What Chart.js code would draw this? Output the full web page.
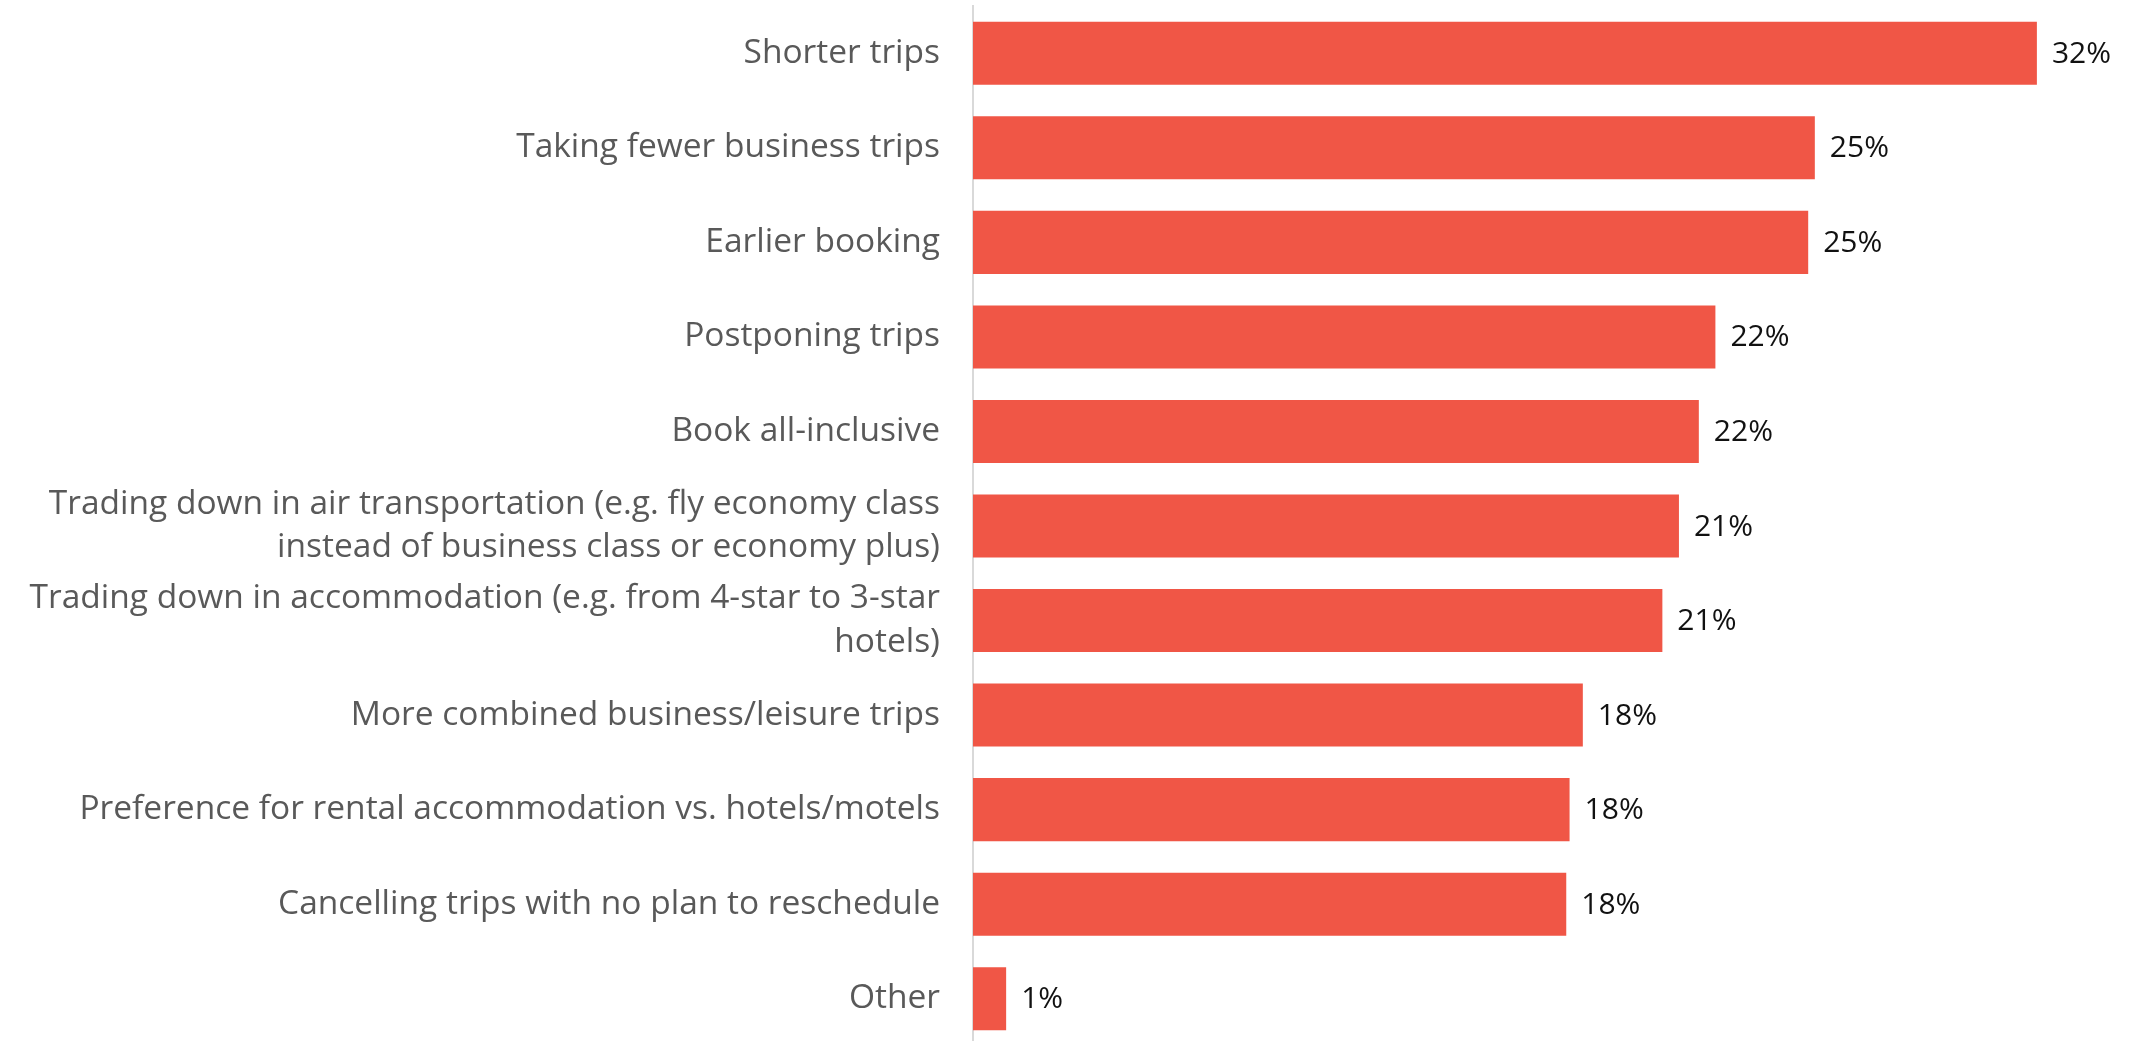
<!DOCTYPE html>
<html>
<head>
<meta charset="utf-8">
<script src="https://cdn.jsdelivr.net/npm/chart.js@4/dist/chart.umd.min.js"></script>
<style>
  html, body { margin: 0; padding: 0; background: #fff; overflow: hidden; }
  #wrap { width: 2139px; height: 1046px; position: relative; }
</style>
</head>
<body>
<div id="wrap"><canvas id="barChart"></canvas></div>
<script>
// Chart data
const categories = [
  "Shorter trips",
  "Taking fewer business trips",
  "Earlier booking",
  "Postponing trips",
  "Book all-inclusive",
  ["Trading down in air transportation (e.g. fly economy class", "instead of business class or economy plus)"],
  ["Trading down in accommodation (e.g. from 4-star to 3-star", "hotels)"],
  "More combined business/leisure trips",
  "Preference for rental accommodation vs. hotels/motels",
  "Cancelling trips with no plan to reschedule",
  "Other"
];
const shares = [32.1, 25.4, 25.2, 22.4, 21.9, 21.3, 20.8, 18.4, 18.0, 17.9, 1.0];

const FONT = "'Open Sans', sans-serif";

// value labels to the right of each bar
const valueLabels = {
  id: "valueLabels",
  afterDatasetsDraw(chart) {
    const c = chart.ctx;
    const meta = chart.getDatasetMeta(0);
    c.save();
    c.font = "30px " + FONT;
    c.fillStyle = "#111111";
    c.textAlign = "left";
    c.textBaseline = "middle";
    meta.data.forEach((bar, i) => {
      c.fillText(Math.round(shares[i]) + "%", bar.x + 15, bar.y + 1);
    });
    c.restore();
  }
};

const ctx = document.getElementById("barChart").getContext("2d");
const chart = new Chart(ctx, {
  type: "bar",
  data: {
    labels: categories,
    datasets: [{
      data: shares,
      backgroundColor: "#F05646",
      barPercentage: 0.667,
      categoryPercentage: 1.0
    }]
  },
  options: {
    indexAxis: "y",
    responsive: true,
    maintainAspectRatio: false,
    animation: false,
    layout: { padding: { top: 6, right: 6, bottom: 0, left: 0 } },
    plugins: {
      legend: { display: false },
      tooltip: { enabled: false }
    },
    scales: {
      x: {
        display: false,
        min: 0,
        max: 35
      },
      y: {
        grid: { display: false, drawTicks: false },
        border: { display: true, color: "#d9d9d9", width: 2 },
        ticks: {
          color: "#595959",
          padding: 33,
          font: { family: FONT, size: 33.5, lineHeight: 1.31 }
        },
        afterFit(axis) {
          axis.width = 973;
          axis.paddingTop = 0;
          axis.paddingBottom = 0;
        }
      }
    }
  },
  plugins: [valueLabels]
});
</script>
</body>
</html>
